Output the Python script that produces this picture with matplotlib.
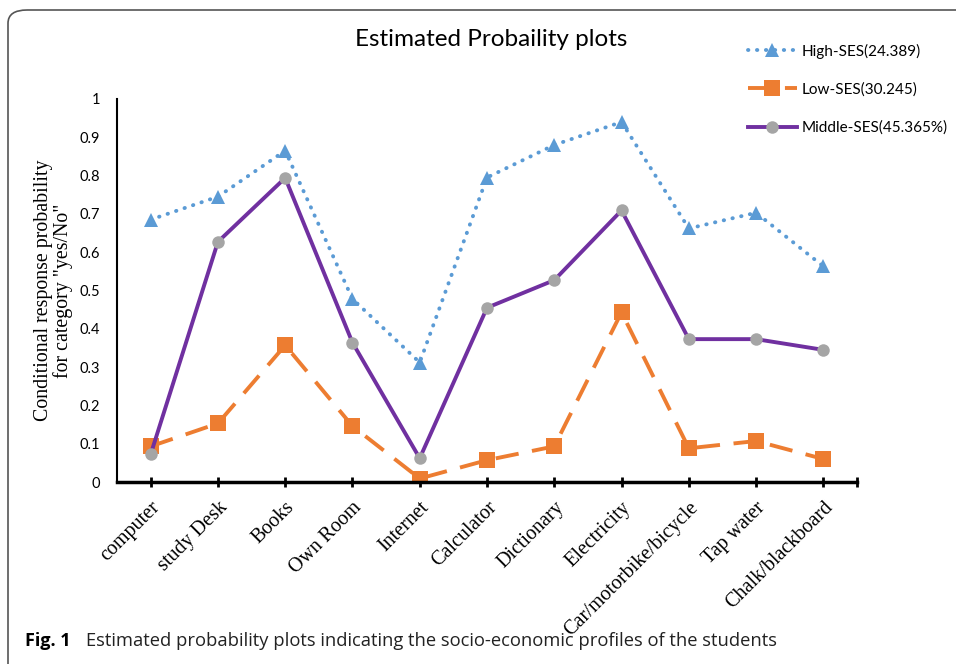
import matplotlib
matplotlib.use("Agg")
import matplotlib.pyplot as plt
from matplotlib.patches import FancyBboxPatch
import numpy as np

CATEGORIES = ['computer', 'study Desk', 'Books', 'Own Room', 'Internet', 'Calculator',
              'Dictionary', 'Electricity', 'Car/motorbike/bicycle', 'Tap water', 'Chalk/blackboard']
HIGH = [0.685, 0.745, 0.865, 0.478, 0.312, 0.795, 0.880, 0.940, 0.662, 0.703, 0.563]
LOW = [0.093, 0.153, 0.357, 0.146, 0.009, 0.057, 0.093, 0.443, 0.088, 0.107, 0.060]
MIDDLE = [0.072, 0.627, 0.794, 0.364, 0.062, 0.455, 0.527, 0.709, 0.373, 0.373, 0.345]
LABELS = ['High-SES(24.389)', 'Low-SES(30.245)', 'Middle-SES(45.365%)']
Y_TICKS = [0, 0.1, 0.2, 0.3, 0.4, 0.5, 0.6, 0.7, 0.8, 0.9, 1]
Y_TICK_LABELS = ['0', '0.1', '0.2', '0.3', '0.4', '0.5', '0.6', '0.7', '0.8', '0.9', '1']

W, H = 956, 664
SANS = 'Lato'
SERIF = 'Liberation Serif'


def main():
    fig = plt.figure(figsize=(W / 100, H / 100), dpi=100)
    fig.patch.set_facecolor('white')

    # rounded frame, right and bottom sides run off the picture
    frame = FancyBboxPatch((8 / W, 1 - 700 / H), 1100 / W, 690 / H,
                           boxstyle='round,pad=0,rounding_size=0.02',
                           transform=fig.transFigure, fill=False,
                           edgecolor='#555555', linewidth=1.2, clip_on=False)
    fig.patches.append(frame)

    ax = fig.add_axes([117 / W, 1 - 482 / H, (857 - 117) / W, (482 - 99) / H])
    x = np.arange(len(CATEGORIES))

    ax.plot(x, HIGH, color='#5B9BD5', linestyle=(0, (0.1, 2.2)), dash_capstyle='round',
            linewidth=2.8, marker='^', markersize=10.5, markeredgewidth=0, label=LABELS[0])
    ax.plot(x, LOW, color='#ED7D31', linestyle=(0, (6, 3.5)), linewidth=2.8,
            marker='s', markersize=11.5, markeredgewidth=0, label=LABELS[1])
    ax.plot(x, MIDDLE, color='#7030A0', linewidth=2.8, marker='o', markersize=9,
            markerfacecolor='#A5A5A5', markeredgewidth=0, label=LABELS[2])

    ax.set_xlim(-0.5, 10.5)
    ax.set_ylim(0, 1)
    ax.spines['top'].set_visible(False)
    ax.spines['right'].set_visible(False)
    ax.spines['left'].set_linewidth(1.5)
    ax.spines['bottom'].set_linewidth(2.5)

    ax.set_yticks(Y_TICKS)
    ax.set_yticklabels(Y_TICK_LABELS, fontfamily=SANS, fontsize=10.5)
    ax.tick_params(axis='y', length=0, pad=12)

    ax.set_xticks(list(x) + [10.5])
    ax.set_xticklabels(CATEGORIES + [''], fontfamily=SERIF, fontsize=14.5,
                       rotation=45, ha='right', rotation_mode='anchor')
    ax.tick_params(axis='x', direction='inout', length=7, width=2, pad=8)

    ax.set_ylabel('Conditional response probability\nfor category "yes/No"',
                  fontfamily=SERIF, fontsize=14.3, linespacing=1.0)
    ax.yaxis.set_label_coords((73 - 117) / (857 - 117), 0.5)

    fig.text(491 / W, 1 - 40 / H, 'Estimated Probaility plots', fontfamily=SANS,
             fontsize=17.5, ha='center', va='center')

    ax.legend(loc='upper left', bbox_to_anchor=(734 / W, 1 - 30 / H),
              bbox_transform=fig.transFigure, frameon=False,
              prop={'family': SANS, 'size': 11}, handlelength=3.2,
              labelspacing=1.55, handletextpad=0.3)

    fig.text(25 / W, 1 - 641 / H, 'Fig. 1', fontfamily='Open Sans', fontweight='bold',
             fontsize=13, ha='left', va='center')
    fig.text(86 / W, 1 - 641 / H,
             'Estimated probability plots indicating the socio-economic profiles of the students',
             fontfamily='Open Sans', fontsize=13.2, ha='left', va='center', color='#222222')

    fig.savefig('out.png', dpi=100)


if __name__ == '__main__':
    main()
